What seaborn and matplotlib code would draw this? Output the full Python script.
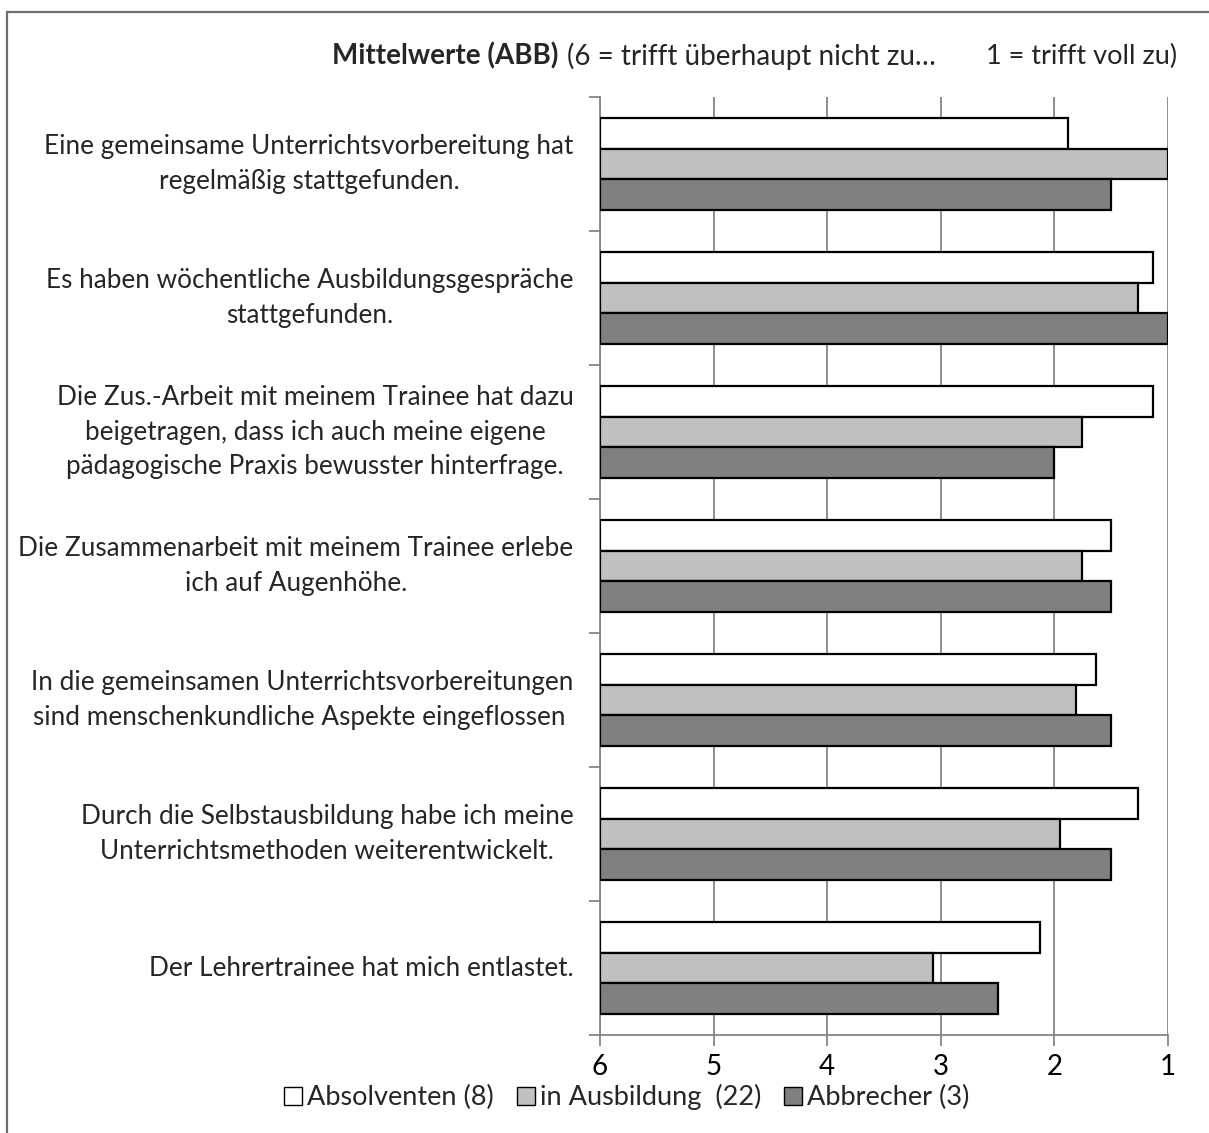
import matplotlib
matplotlib.use("Agg")
import matplotlib.pyplot as plt
import seaborn as sns
import pandas as pd
from matplotlib.patches import Rectangle, Patch
from matplotlib.ticker import FixedLocator

# Statements (y categories)
statements = [
    "Eine gemeinsame Unterrichtsvorbereitung hat\nregelmäßig stattgefunden.",
    "Es haben wöchentliche Ausbildungsgespräche\nstattgefunden.",
    "Die Zus.-Arbeit mit meinem Trainee hat dazu\nbeigetragen, dass ich auch meine eigene\npädagogische Praxis bewusster hinterfrage.",
    "Die Zusammenarbeit mit meinem Trainee erlebe\nich auf Augenhöhe.",
    "In die gemeinsamen Unterrichtsvorbereitungen\nsind menschenkundliche Aspekte eingeflossen ",
    "Durch die Selbstausbildung habe ich meine\nUnterrichtsmethoden weiterentwickelt.",
    "Der Lehrertrainee hat mich entlastet.",
]

# Groups and their mean ratings (6 = trifft überhaupt nicht zu, 1 = trifft voll zu)
groups = ["Absolventen (8)", "in Ausbildung  (22)", "Abbrecher (3)"]
absolventen = [1.88, 1.13, 1.13, 1.50, 1.63, 1.26, 2.13]
in_ausbildung = [1.00, 1.26, 1.76, 1.76, 1.81, 1.95, 3.07]
abbrecher = [1.50, 1.00, 2.00, 1.50, 1.50, 1.50, 2.50]
group_colors = ["#FFFFFF", "#C0C0C0", "#808080"]

scale_ticks = [6, 5, 4, 3, 2, 1]
scale_start = 6

rows = []
for grp, vals in zip(groups, [absolventen, in_ausbildung, abbrecher]):
    for st, v in zip(statements, vals):
        rows.append({"Aussage": st, "Gruppe": grp, "Mittelwert": v})
df = pd.DataFrame(rows)
# Bars grow from the scale start (6) toward the mean value
df["Ausdehnung"] = df["Mittelwert"] - scale_start

sns.set_theme(style="white")
plt.rcParams["font.family"] = ["Lato", "DejaVu Sans"]

fig = plt.figure(figsize=(12.09, 11.33), dpi=100)
ax = fig.add_axes([600 / 1209, 1 - 1035 / 1133, 568 / 1209, 938 / 1133])

sns.barplot(
    data=df, y="Aussage", x="Ausdehnung", hue="Gruppe",
    order=statements, hue_order=groups, palette=group_colors,
    orient="h", width=0.68, gap=0, edgecolor="black", linewidth=1.6,
    left=scale_start, legend=False, ax=ax, zorder=3,
)

grid_col = "#868686"
ax.set_xlim(6, 1)
ax.set_ylim(len(statements) - 0.5, -0.5)
ax.set_xticks(scale_ticks)
ax.set_xticklabels([str(t) for t in scale_ticks], fontsize=20)
ax.xaxis.grid(True, color=grid_col, linewidth=1.3, zorder=0)
ax.yaxis.grid(False)
ax.set_axisbelow(True)

ax.set_xlabel("")
ax.set_ylabel("")
ax.tick_params(axis="x", length=8, width=1.3, color=grid_col, pad=6,
               labelcolor="black", direction="out", bottom=True)
ax.tick_params(axis="y", which="major", length=0, pad=19, labelsize=18.8)
ax.yaxis.set_minor_locator(FixedLocator([i - 0.5 for i in range(len(statements) + 1)]))
ax.tick_params(axis="y", which="minor", length=8, width=1.3, color=grid_col,
               direction="out", left=True)
for lbl in ax.get_yticklabels():
    lbl.set_multialignment("center")
    lbl.set_linespacing(1.46)
    lbl.set_verticalalignment("center")

for side in ["top", "right"]:
    ax.spines[side].set_visible(False)
for side in ["left", "bottom"]:
    ax.spines[side].set_color(grid_col)
    ax.spines[side].set_linewidth(1.3)

# Heading line
fig.text(558 / 1209, 1 - 56 / 1133, "Mittelwerte (ABB)", ha="right", va="center",
         fontsize=20, fontweight="bold")
fig.text(567 / 1209, 1 - 56 / 1133, "(6 = trifft überhaupt nicht zu…", ha="left",
         va="center", fontsize=20)
fig.text(1177 / 1209, 1 - 56 / 1133, "1 = trifft voll zu)", ha="right",
         va="center", fontsize=19.5)

# Legend below the axis
handles = [Patch(facecolor=c, edgecolor="black", linewidth=1.0) for c in group_colors]
fig.legend(handles, groups, loc="center", bbox_to_anchor=(627 / 1209, 1 - 1097 / 1133),
           ncol=3, frameon=False, fontsize=19.5, handlelength=0.65, handleheight=0.65,
           handletextpad=0.2, columnspacing=0.85, borderaxespad=0)

# Outer chart frame
fig.patches.append(Rectangle((7 / 1209, -0.1), 1.2, 1 - 12 / 1133 + 0.1,
                             transform=fig.transFigure, fill=False,
                             edgecolor="#6E6E6E", linewidth=1.6))

fig.savefig("out.png", dpi=100)
